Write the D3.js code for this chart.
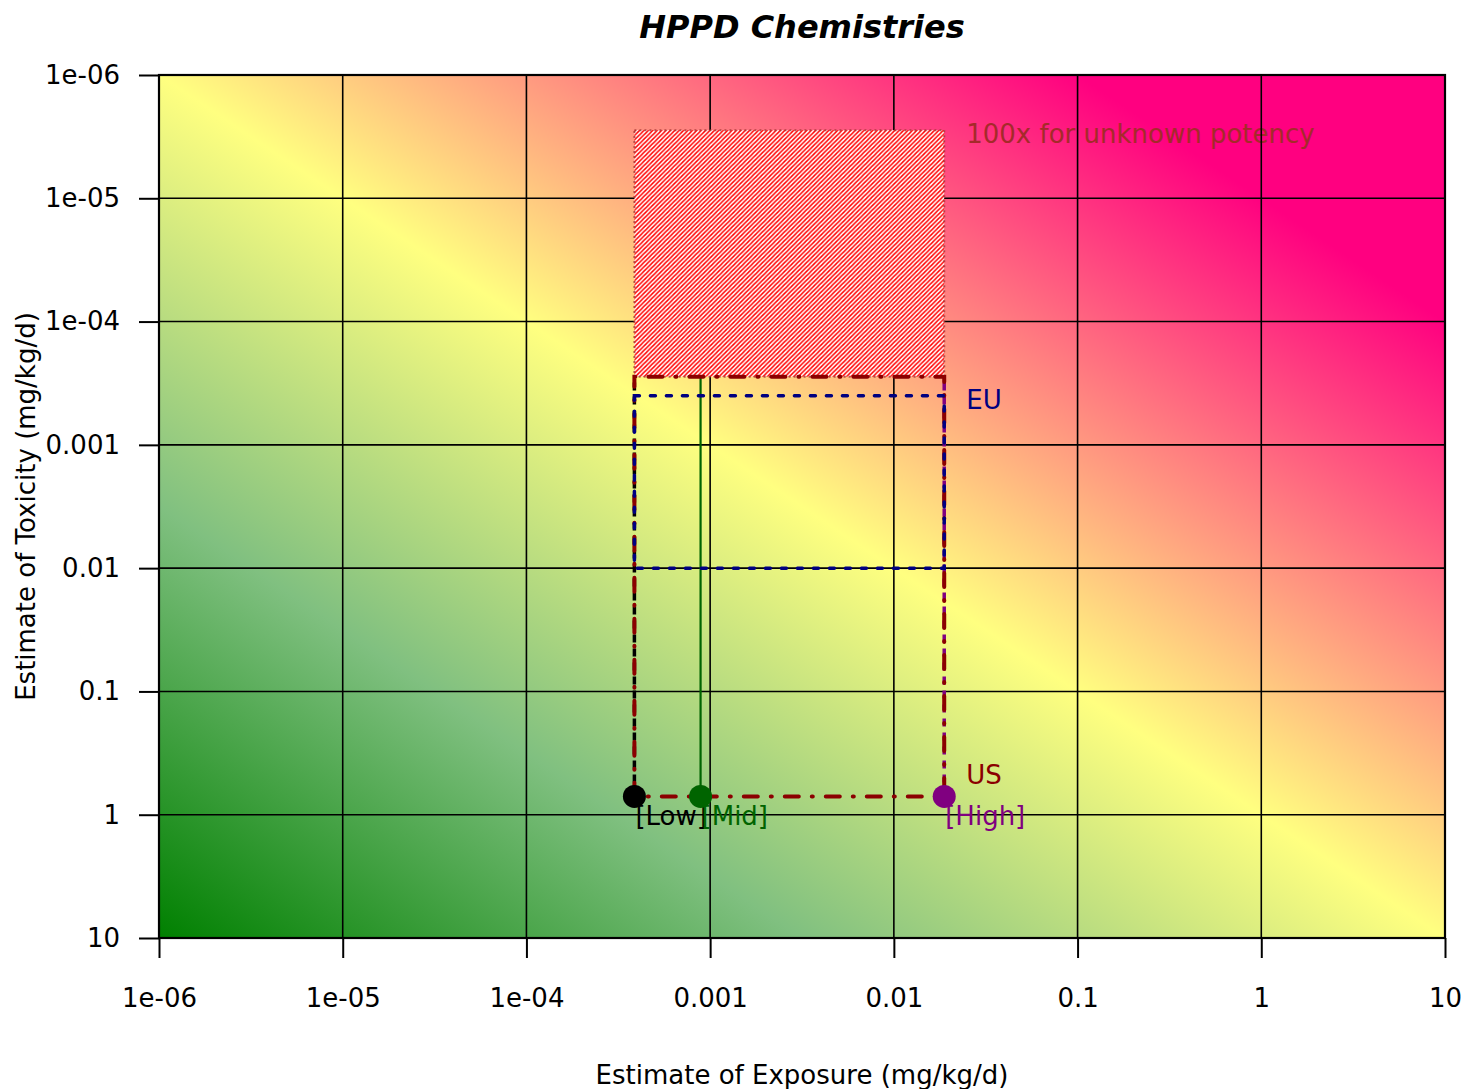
<!DOCTYPE html>
<html>
<head>
<meta charset="utf-8">
<script src="https://cdn.jsdelivr.net/npm/d3@7"></script>
<style>
  html, body { margin: 0; padding: 0; background: #ffffff; }
  svg { display: block; font-family: "DejaVu Sans", sans-serif; }
</style>
</head>
<body>
<svg id="chart" width="1466" height="1089"></svg>
<script>
// Axis decades (exposure on x, toxicity on y, both in mg/kg/d)
const xTicks = [1e-6, 1e-5, 1e-4, 1e-3, 1e-2, 1e-1, 1, 10];
const xTickLabels = ["1e-06", "1e-05", "1e-04", "0.001", "0.01", "0.1", "1", "10"];
const yTicks = [1e-6, 1e-5, 1e-4, 1e-3, 1e-2, 1e-1, 1, 10];
const yTickLabels = ["1e-06", "1e-05", "1e-04", "0.001", "0.01", "0.1", "1", "10"];

// Exposure scenarios
const scenarios = ["Low", "Mid", "High"];
const scenarioExposure = [3.87e-4, 8.87e-4, 0.0188];
const scenarioToxicity = [0.711, 0.711, 0.711];
const scenarioColors = ["#000000", "#006400", "#800080"];

// Regulatory toxicity bounds
const usUpperToxicity = 2.80e-4;
const euToxicityRange = [4.0e-4, 0.01];
const unknownPotencyFactor = 100;

// Background risk colouring by log10(exposure / toxicity)
const riskStops = [-7, -3.5, 0, 2.5, 5, 7];
const riskColors = ["#008000", "#80c080", "#ffff80", "#ff8080", "#ff0080", "#ff0080"];

const svg = d3.select("#chart");
const margin = { left: 159, right: 21, top: 75, bottom: 151 };
const W = 1466, H = 1089;

const x = d3.scaleLog().domain([1e-6, 10]).range([margin.left, W - margin.right]);
const y = d3.scaleLog().domain([1e-6, 10]).range([margin.top, H - margin.bottom]);

const x0 = x.range()[0], x1 = x.range()[1];
const y0 = y.range()[0], y1 = y.range()[1];

// Gradient whose iso-lines follow constant exposure/toxicity ratio
const kx = x(10) - x(1);   // px per decade
const ky = y(10) - y(1);
const gx = 1 / kx, gy = -1 / ky;
const span = riskStops[riskStops.length - 1] - riskStops[0];
const t = span / (gx * gx + gy * gy);
const p1 = [x(1e-6), y(10)];
const p2 = [p1[0] + t * gx, p1[1] + t * gy];

const defs = svg.append("defs");
const grad = defs.append("linearGradient")
  .attr("id", "riskGrad")
  .attr("gradientUnits", "userSpaceOnUse")
  .attr("x1", p1[0]).attr("y1", p1[1])
  .attr("x2", p2[0]).attr("y2", p2[1]);
riskStops.forEach((r, i) => {
  grad.append("stop")
    .attr("offset", (r - riskStops[0]) / span)
    .attr("stop-color", riskColors[i]);
});

const hs = 4.4;
const hatch = defs.append("pattern")
  .attr("id", "hatch")
  .attr("patternUnits", "userSpaceOnUse")
  .attr("width", hs).attr("height", hs);
hatch.append("rect").attr("width", hs).attr("height", hs).attr("fill", "#ffffff");
hatch.append("path")
  .attr("d", `M-1,1 L1,-1 M0,${hs} L${hs},0 M${hs - 1},${hs + 1} L${hs + 1},${hs - 1}`)
  .attr("stroke", "#ff0000").attr("stroke-width", 1.45);

defs.append("clipPath").attr("id", "plotClip")
  .append("rect").attr("x", x0).attr("y", y0).attr("width", x1 - x0).attr("height", y1 - y0);

// Plot background
svg.append("rect")
  .attr("x", x0).attr("y", y0).attr("width", x1 - x0).attr("height", y1 - y0)
  .attr("fill", "url(#riskGrad)");

const plot = svg.append("g").attr("clip-path", "url(#plotClip)");

const xLow = x(scenarioExposure[0]);
const xHigh = x(scenarioExposure[2]);
const yPts = y(scenarioToxicity[0]);

// Annotation for the unknown-potency margin (sits under the grid)
plot.append("text")
  .attr("x", xHigh + 22).attr("y", y(usUpperToxicity / unknownPotencyFactor) + 4)
  .attr("dy", "0.35em")
  .attr("font-size", 26)
  .attr("fill", "#a52a2a")
  .text("100x for unknown potency");

// Grid
plot.selectAll(".vgrid").data(xTicks).join("line")
  .attr("x1", d => x(d)).attr("x2", d => x(d))
  .attr("y1", y0).attr("y2", y1)
  .attr("stroke", "#000").attr("stroke-width", 1.6);
plot.selectAll(".hgrid").data(yTicks).join("line")
  .attr("y1", d => y(d)).attr("y2", d => y(d))
  .attr("x1", x0).attr("x2", x1)
  .attr("stroke", "#000").attr("stroke-width", 1.6);

// Hatched band: US bound extended 100x
plot.append("rect")
  .attr("x", xLow).attr("y", y(usUpperToxicity / unknownPotencyFactor))
  .attr("width", xHigh - xLow)
  .attr("height", y(usUpperToxicity) - y(usUpperToxicity / unknownPotencyFactor))
  .attr("fill", "url(#hatch)")
  .attr("stroke", "#a03030").attr("stroke-opacity", 0.75)
  .attr("stroke-width", 2).attr("stroke-dasharray", "2,3");

// Vertical drop lines from each scenario up to the US bound
const dropDash = ["8,6", null, "8,6"];
scenarios.forEach((s, i) => {
  plot.append("line")
    .attr("x1", x(scenarioExposure[i])).attr("x2", x(scenarioExposure[i]))
    .attr("y1", y(scenarioToxicity[i])).attr("y2", y(usUpperToxicity))
    .attr("stroke", scenarioColors[i])
    .attr("stroke-width", i === 1 ? 2.2 : 3.5)
    .attr("stroke-dasharray", dropDash[i]);
});

// US range box (dot-dash)
plot.append("rect")
  .attr("x", xLow).attr("y", y(usUpperToxicity))
  .attr("width", xHigh - xLow).attr("height", yPts - y(usUpperToxicity))
  .attr("fill", "none")
  .attr("stroke", "#8b0000").attr("stroke-width", 4)
  .attr("stroke-linecap", "round")
  .attr("stroke-dasharray", "1,13,14,13");

// EU range box (dotted)
plot.append("rect")
  .attr("x", xLow).attr("y", y(euToxicityRange[0]))
  .attr("width", xHigh - xLow).attr("height", y(euToxicityRange[1]) - y(euToxicityRange[0]))
  .attr("fill", "none")
  .attr("stroke", "#000080").attr("stroke-width", 3.5)
  .attr("stroke-linecap", "round")
  .attr("stroke-dasharray", "5,11");

// Scenario points and labels
scenarios.forEach((s, i) => {
  plot.append("circle")
    .attr("cx", x(scenarioExposure[i])).attr("cy", y(scenarioToxicity[i]))
    .attr("r", 11.5).attr("fill", scenarioColors[i]);
  plot.append("text")
    .attr("x", x(scenarioExposure[i]) + 1).attr("y", y(scenarioToxicity[i]) + 19)
    .attr("dy", "0.35em")
    .attr("font-size", 26).attr("fill", scenarioColors[i])
    .text("[" + s + "]");
});

plot.append("text")
  .attr("x", xHigh + 22).attr("y", y(euToxicityRange[0]) + 4)
  .attr("dy", "0.35em").attr("font-size", 26).attr("fill", "#000080")
  .text("EU");
plot.append("text")
  .attr("x", xHigh + 22).attr("y", yPts - 22)
  .attr("dy", "0.35em").attr("font-size", 26).attr("fill", "#8b0000")
  .text("US");

// Frame
svg.append("rect")
  .attr("x", x0).attr("y", y0).attr("width", x1 - x0).attr("height", y1 - y0)
  .attr("fill", "none").attr("stroke", "#000").attr("stroke-width", 2.2);

// Axes
const xAxis = d3.axisBottom(x).tickValues(xTicks)
  .tickFormat((d, i) => xTickLabels[i]).tickSize(20).tickPadding(31);
const gx_ = svg.append("g").attr("transform", `translate(0,${y1})`).call(xAxis);
gx_.select(".domain").remove();
gx_.selectAll(".tick line").attr("stroke", "#000").attr("stroke-width", 2);
gx_.selectAll(".tick text").attr("font-size", 26).attr("font-family", "DejaVu Sans").attr("fill", "#000");

const yAxis = d3.axisLeft(y).tickValues(yTicks)
  .tickFormat((d, i) => yTickLabels[i]).tickSize(20).tickPadding(19);
const gy_ = svg.append("g").attr("transform", `translate(${x0},0)`).call(yAxis);
gy_.select(".domain").remove();
gy_.selectAll(".tick line").attr("stroke", "#000").attr("stroke-width", 2);
gy_.selectAll(".tick text").attr("font-size", 26).attr("font-family", "DejaVu Sans").attr("fill", "#000");

// Titles
svg.append("text")
  .attr("x", (x0 + x1) / 2).attr("y", 38)
  .attr("text-anchor", "middle")
  .attr("font-size", 32).attr("font-weight", "bold").attr("font-style", "italic")
  .text("HPPD Chemistries");
svg.append("text")
  .attr("x", (x0 + x1) / 2).attr("y", 1084)
  .attr("text-anchor", "middle").attr("font-size", 26)
  .text("Estimate of Exposure (mg/kg/d)");
svg.append("text")
  .attr("transform", `translate(35,${(y0 + y1) / 2}) rotate(-90)`)
  .attr("text-anchor", "middle").attr("font-size", 26)
  .text("Estimate of Toxicity (mg/kg/d)");
</script>
</body>
</html>
